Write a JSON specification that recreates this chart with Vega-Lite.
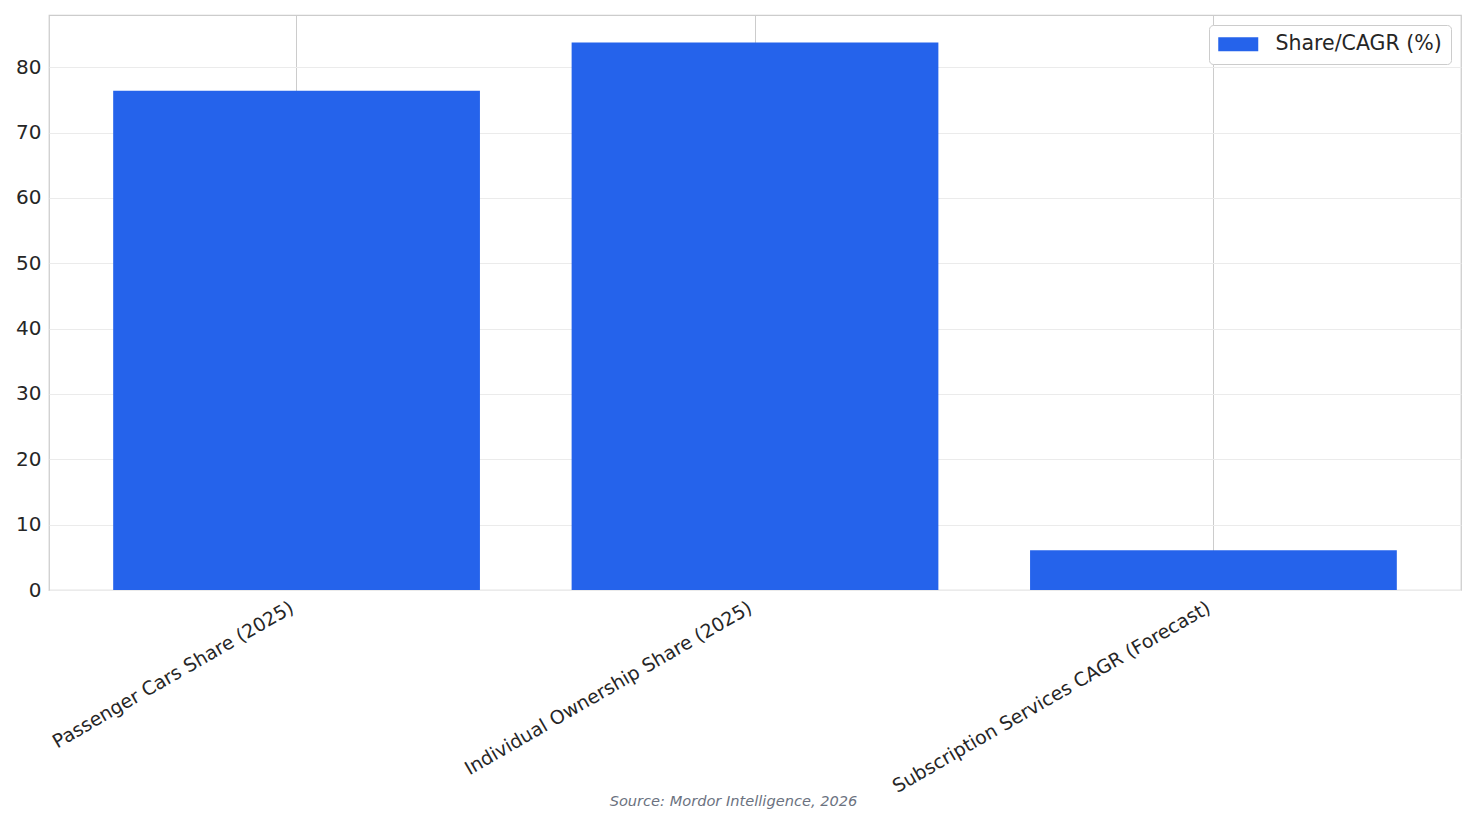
{
  "$schema": "https://vega.github.io/schema/vega-lite/v6.json",
  "width": 1412,
  "height": 575,
  "autosize": {"type": "none"},
  "padding": {"left": 49, "top": 15, "right": 15, "bottom": 234},
  "background": "white",
  "config": {
    "view": {"stroke": "#cccccc", "strokeWidth": 1.25},
    "font": "DejaVu Sans"
  },
  "data": {
    "values": [
      {"category": "Passenger Cars Share (2025)", "value": 76.4, "series": "Share/CAGR (%)"},
      {"category": "Individual Ownership Share (2025)", "value": 83.8, "series": "Share/CAGR (%)"},
      {"category": "Subscription Services CAGR (Forecast)", "value": 6.1, "series": "Share/CAGR (%)"}
    ]
  },
  "mark": {"type": "bar"},
  "encoding": {
    "x": {
      "field": "category",
      "type": "nominal",
      "sort": null,
      "scale": {"paddingInner": 0.2, "paddingOuter": 0.14},
      "axis": {
        "title": "Source: Mordor Intelligence, 2026",
        "titleFont": "DejaVu Sans",
        "titleFontStyle": "italic",
        "titleFontWeight": "normal",
        "titleColor": "#6b7280",
        "titleFontSize": 14.6,
        "titleX": 684,
        "titleY": 211,
        "titleAlign": "center",
        "titleBaseline": "middle",
        "labelAngle": -30,
        "labelAlign": "right",
        "labelBaseline": "top",
        "labelFontSize": 18.9,
        "labelLimit": 0,
        "labelColor": "#262626",
        "labelPadding": 8,
        "labelOffset": -9,
        "ticks": false,
        "domain": false,
        "grid": true,
        "gridColor": "#cccccc",
        "gridWidth": 1,
        "bandPosition": 0.5
      }
    },
    "y": {
      "field": "value",
      "type": "quantitative",
      "scale": {"domain": [0, 88], "nice": false, "zero": true},
      "axis": {
        "title": null,
        "values": [0, 10, 20, 30, 40, 50, 60, 70, 80],
        "grid": true,
        "gridColor": "#ebebeb",
        "gridWidth": 1,
        "domain": false,
        "ticks": false,
        "labelFontSize": 20,
        "labelPadding": 8,
        "labelColor": "#262626"
      }
    },
    "color": {
      "field": "series",
      "type": "nominal",
      "scale": {"range": ["#2563eb"]},
      "legend": {
        "title": null,
        "orient": "top-right",
        "offset": 10,
        "strokeColor": "#cccccc",
        "fillColor": "white",
        "cornerRadius": 4,
        "padding": 9,
        "symbolType": "M-1,-0.7L3,-0.7L3,0.7L-1,0.7Z",
        "symbolSize": 400,
        "symbolStrokeWidth": 0,
        "symbolOpacity": 1,
        "labelFontSize": 20.5,
        "labelLimit": 0,
        "labelColor": "#262626",
        "labelOffset": 37
      }
    }
  }
}
